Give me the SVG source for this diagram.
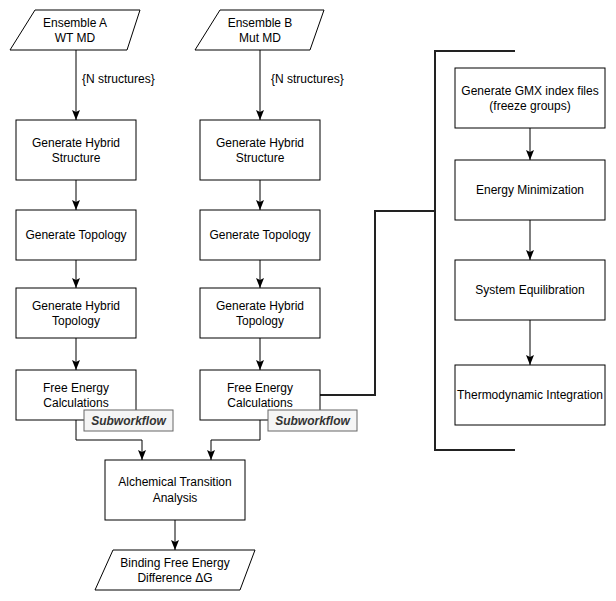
<svg xmlns="http://www.w3.org/2000/svg" width="616" height="601" viewBox="0 0 616 601">
<defs>
<style>
.n{fill:#fff;stroke:#000;stroke-width:1}
.t{font-family:"Liberation Sans",Arial,sans-serif;font-size:12px;fill:#000;text-anchor:middle}
.c{fill:none;stroke:#000;stroke-width:1}
.thick{fill:none;stroke:#222;stroke-width:2}
.sw{fill:#f5f5f5;stroke:#666;stroke-width:1}
.swt{font-family:"Liberation Sans",Arial,sans-serif;font-size:12px;font-weight:bold;font-style:italic;fill:#333;text-anchor:middle}
.lbl{font-family:"Liberation Sans",Arial,sans-serif;font-size:12px;fill:#000}
</style>
<marker id="arr" markerUnits="userSpaceOnUse" markerWidth="10" markerHeight="10" viewBox="0 0 10 10" refX="10" refY="5" orient="auto">
<path d="M0,1 L10,5 L0,9 L2,5 Z" fill="#000"/>
</marker>
</defs>
<rect width="616" height="601" fill="#fff"/>
<g id="connectors">
<path class="c" d="M76,50 V120" marker-end="url(#arr)"/>
<path class="c" d="M260,50 V120" marker-end="url(#arr)"/>
<path class="c" d="M76,180 V210" marker-end="url(#arr)"/>
<path class="c" d="M260,180 V210" marker-end="url(#arr)"/>
<path class="c" d="M76,260 V288" marker-end="url(#arr)"/>
<path class="c" d="M260,260 V288" marker-end="url(#arr)"/>
<path class="c" d="M76,338 V370" marker-end="url(#arr)"/>
<path class="c" d="M260,338 V370" marker-end="url(#arr)"/>
<path class="c" d="M76,420 V440 H142 V460" marker-end="url(#arr)"/>
<path class="c" d="M260,420 V440 H211 V460" marker-end="url(#arr)"/>
<path class="c" d="M175,520 V550" marker-end="url(#arr)"/>
<path class="c" d="M530,128 V160" marker-end="url(#arr)"/>
<path class="c" d="M530,220 V260" marker-end="url(#arr)"/>
<path class="c" d="M530,320 V365" marker-end="url(#arr)"/>
<path class="thick" d="M320,395 H375 V211 H435"/>
<text class="lbl" x="82" y="83">{N structures}</text>
<text class="lbl" x="271" y="83">{N structures}</text>
</g>
<g id="bracket">
<path class="thick" d="M515,51 H435 V450 H515"/>
</g>
<g id="ensembleA">
<polygon class="n" points="35,10 140,10 127,50 10,50"/>
<text class="t" x="75" y="27">Ensemble A</text>
<text class="t" x="75" y="42">WT MD</text>
</g>
<g id="ensembleB">
<polygon class="n" points="220,10 324,10 310,50 195,50"/>
<text class="t" x="260" y="27">Ensemble B</text>
<text class="t" x="260" y="42">Mut MD</text>
</g>
<g id="hybridStructA">
<rect class="n" x="16" y="120" width="120" height="60"/>
<text class="t" x="76" y="147">Generate Hybrid</text>
<text class="t" x="76" y="162">Structure</text>
</g>
<g id="hybridStructB">
<rect class="n" x="200" y="120" width="120" height="60"/>
<text class="t" x="260" y="147">Generate Hybrid</text>
<text class="t" x="260" y="162">Structure</text>
</g>
<g id="topologyA">
<rect class="n" x="16" y="210" width="120" height="50"/>
<text class="t" x="76" y="239">Generate Topology</text>
</g>
<g id="topologyB">
<rect class="n" x="200" y="210" width="120" height="50"/>
<text class="t" x="260" y="239">Generate Topology</text>
</g>
<g id="hybridTopA">
<rect class="n" x="16" y="288" width="120" height="50"/>
<text class="t" x="76" y="310">Generate Hybrid</text>
<text class="t" x="76" y="325">Topology</text>
</g>
<g id="hybridTopB">
<rect class="n" x="200" y="288" width="120" height="50"/>
<text class="t" x="260" y="310">Generate Hybrid</text>
<text class="t" x="260" y="325">Topology</text>
</g>
<g id="freeEnergyA">
<rect class="n" x="16" y="370" width="120" height="50"/>
<text class="t" x="76" y="392">Free Energy</text>
<text class="t" x="76" y="407">Calculations</text>
<rect class="sw" x="84" y="410" width="89" height="21"/>
<text class="swt" x="128.5" y="425">Subworkflow</text>
</g>
<g id="freeEnergyB">
<rect class="n" x="200" y="370" width="120" height="50"/>
<text class="t" x="260" y="392">Free Energy</text>
<text class="t" x="260" y="407">Calculations</text>
<rect class="sw" x="268" y="410" width="89" height="21"/>
<text class="swt" x="312.5" y="425">Subworkflow</text>
</g>
<g id="alchemical">
<rect class="n" x="105" y="460" width="140" height="60"/>
<text class="t" x="175" y="486">Alchemical Transition</text>
<text class="t" x="175" y="502">Analysis</text>
</g>
<g id="binding">
<polygon class="n" points="113,550 255,550 240,590 95,590"/>
<text class="t" x="175" y="567">Binding Free Energy</text>
<text class="t" x="175" y="582">Difference ΔG</text>
</g>
<g id="gmxIndex">
<rect class="n" x="455" y="68" width="150" height="60"/>
<text class="t" x="530" y="95">Generate GMX index files</text>
<text class="t" x="530" y="110">(freeze groups)</text>
</g>
<g id="energyMin">
<rect class="n" x="455" y="160" width="150" height="60"/>
<text class="t" x="530" y="194">Energy Minimization</text>
</g>
<g id="equilibration">
<rect class="n" x="455" y="260" width="150" height="60"/>
<text class="t" x="530" y="294">System Equilibration</text>
</g>
<g id="thermoInt">
<rect class="n" x="455" y="365" width="150" height="60"/>
<text class="t" x="530" y="399">Thermodynamic Integration</text>
</g>
</svg>
